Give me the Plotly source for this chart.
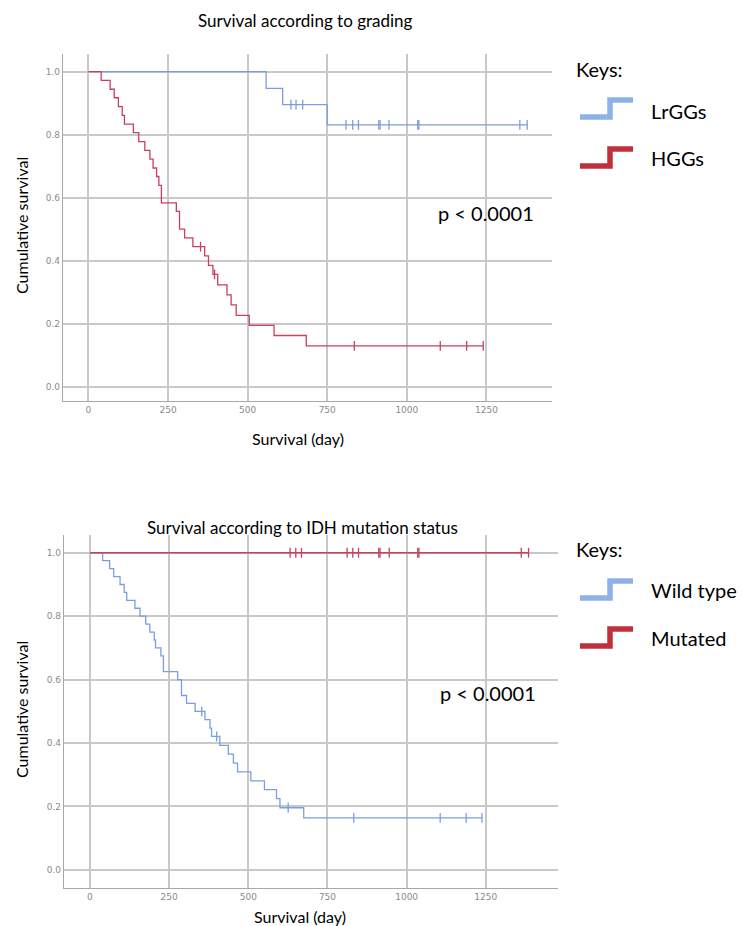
import numpy as np
import plotly.graph_objects as go

# ---------------- data ----------------
# Top chart: grading
lrgg_event_days = [558, 610, 750]
lrgg_surv = [0.947, 0.895, 0.831]
lrgg_censor_days = [636, 652, 673, 809, 830, 848, 912, 916, 944, 1034, 1038, 1355, 1378]

hgg_event_days = [40, 68, 81, 94, 106, 113, 141, 158, 177, 193, 203, 214, 221, 229,
                  276, 286, 302, 328, 365, 377, 391, 406, 435, 448, 464, 505, 583, 684]
hgg_surv = [0.972, 0.944, 0.917, 0.889, 0.861, 0.833, 0.806, 0.778, 0.750, 0.722,
            0.694, 0.667, 0.639, 0.583, 0.556, 0.500, 0.472, 0.444, 0.415, 0.385,
            0.356, 0.323, 0.291, 0.259, 0.226, 0.194, 0.162, 0.129]
hgg_censor_days = [352, 396, 835, 1105, 1188, 1240]

# Bottom chart: IDH mutation status
wt_event_days = [40, 62, 75, 95, 108, 116, 142, 158, 176, 189, 203, 207, 224, 232,
                 277, 289, 305, 332, 363, 379, 384, 410, 437, 453, 466, 508, 551, 589, 600, 675]
wt_surv = [0.975, 0.950, 0.925, 0.900, 0.875, 0.850, 0.825, 0.800, 0.775, 0.750,
           0.725, 0.700, 0.675, 0.625, 0.600, 0.550, 0.525, 0.500, 0.474, 0.447,
           0.421, 0.393, 0.365, 0.337, 0.309, 0.281, 0.253, 0.225, 0.196, 0.164]
wt_censor_days = [353, 400, 626, 833, 1106, 1188, 1238]

mut_event_days = []
mut_surv = []
mut_censor_days = [632, 650, 668, 812, 830, 848, 912, 916, 945, 1035, 1039, 1362, 1385]

x_ticks = [0, 250, 500, 750, 1000, 1250]
y_ticks = [0.0, 0.2, 0.4, 0.6, 0.8, 1.0]
y_tick_labels = ["0.0", "0.2", "0.4", "0.6", "0.8", "1.0"]

top_title = "Survival according to grading"
bottom_title = "Survival according to IDH mutation status"
top_keys = ["LrGGs", "HGGs"]
bottom_keys = ["Wild type", "Mutated"]
p_text = "p < 0.0001"

# ---------------- styles ----------------
BLUE = "#7a9fe0"
RED = "#c8405e"
KEY_BLUE = "#8eb1e8"
KEY_RED = "#c0303c"
GRID = "#c8c8c8"
AXIS = "#a8a8a8"
TXT_FONT = "Lato, Open Sans, sans-serif"
W, H = 742, 926


def km_curve(events, surv, censors):
    end = max(list(events) + list(censors))
    xs = [0] + list(events) + [end]
    ys = [1.0] + list(surv) + [surv[-1] if surv else 1.0]
    ev = np.array(events, dtype=float)
    sv = np.array([1.0] + list(surv))
    idx = np.searchsorted(ev, np.array(censors, dtype=float), side="right")
    cy = sv[idx]
    return xs, ys, list(censors), list(cy)


fig = go.Figure()


def add_km(events, surv, censors, color, xa, ya):
    xs, ys, cx, cy = km_curve(events, surv, censors)
    fig.add_trace(go.Scatter(x=xs, y=ys, mode="lines", line=dict(color=color, width=1.3, shape="hv"),
                             xaxis=xa, yaxis=ya, showlegend=False, hoverinfo="skip"))
    fig.add_trace(go.Scatter(x=cx, y=cy, mode="markers",
                             marker=dict(symbol="line-ns-open", size=7, color=color,
                                         line=dict(color=color, width=1.3)),
                             xaxis=xa, yaxis=ya, showlegend=False, hoverinfo="skip"))


add_km(lrgg_event_days, lrgg_surv, lrgg_censor_days, BLUE, "x", "y")
add_km(hgg_event_days, hgg_surv, hgg_censor_days, RED, "x", "y")
add_km(wt_event_days, wt_surv, wt_censor_days, BLUE, "x2", "y2")
add_km(mut_event_days, mut_surv, mut_censor_days, RED, "x2", "y2")

axis_common = dict(showgrid=True, gridcolor=GRID, gridwidth=1.6, zeroline=False,
                   showline=True, linecolor=AXIS, linewidth=1.2, ticks="",
                   tickfont=dict(family="DejaVu Sans", size=9, color="#8a8a8a"))

fig.update_layout(
    width=W, height=H, margin=dict(l=0, r=0, t=0, b=0),
    paper_bgcolor="white", plot_bgcolor="white",
    xaxis=dict(domain=[63 / W, 552 / W], range=[-80, 1456], tickvals=x_ticks, anchor="y", **axis_common),
    yaxis=dict(domain=[1 - 401 / H, 1 - 54 / H], range=[-0.046, 1.056], tickvals=y_ticks,
               ticktext=y_tick_labels, anchor="x", **axis_common),
    xaxis2=dict(domain=[64 / W, 558 / W], range=[-82, 1478], tickvals=x_ticks, anchor="y2", **axis_common),
    yaxis2=dict(domain=[1 - 888 / H, 1 - 535 / H], range=[-0.057, 1.056], tickvals=y_ticks,
                ticktext=y_tick_labels, anchor="x2", **axis_common),
)

ann = []


def text(x, y, s, size, xanchor="center", angle=0, color="black"):
    ann.append(dict(x=x / W, y=1 - y / H, xref="paper", yref="paper", text=s, showarrow=False,
                    xanchor=xanchor, yanchor="middle", textangle=angle,
                    font=dict(family=TXT_FONT, size=size, color=color)))


# titles
text(305, 20, top_title, 17)
text(302, 527, bottom_title, 17)
# axis titles
text(21, 226, "Cumulative survival", 16, angle=-90)
text(21, 710, "Cumulative survival", 16, angle=-90)
text(298, 438, "Survival (day)", 16)
text(300, 916, "Survival (day)", 16)
# p-values
text(436, 213, p_text, 20, xanchor="left")
text(438, 693, p_text, 20, xanchor="left")
# keys
text(574, 69, "Keys:", 20, xanchor="left")
text(649, 111, top_keys[0], 20, xanchor="left")
text(649, 158, top_keys[1], 20, xanchor="left")
text(574, 549, "Keys:", 20, xanchor="left")
text(649, 590, bottom_keys[0], 20, xanchor="left")
text(649, 638, bottom_keys[1], 20, xanchor="left")

fig.update_layout(annotations=ann)

# key icons (step glyphs)
shapes = []


def step_icon(x0, y_low, color):
    pts = [(x0, y_low), (x0 + 30, y_low), (x0 + 30, y_low - 17), (x0 + 53, y_low - 17)]
    path = "M " + " L ".join(f"{px / W:.5f},{1 - py / H:.5f}" for px, py in pts)
    shapes.append(dict(type="path", path=path, xref="paper", yref="paper",
                       line=dict(color=color, width=5.5)))


step_icon(580, 117, KEY_BLUE)
step_icon(580, 166, KEY_RED)
step_icon(580, 598, KEY_BLUE)
step_icon(580, 646, KEY_RED)
fig.update_layout(shapes=shapes)

fig.write_html("out.html")
